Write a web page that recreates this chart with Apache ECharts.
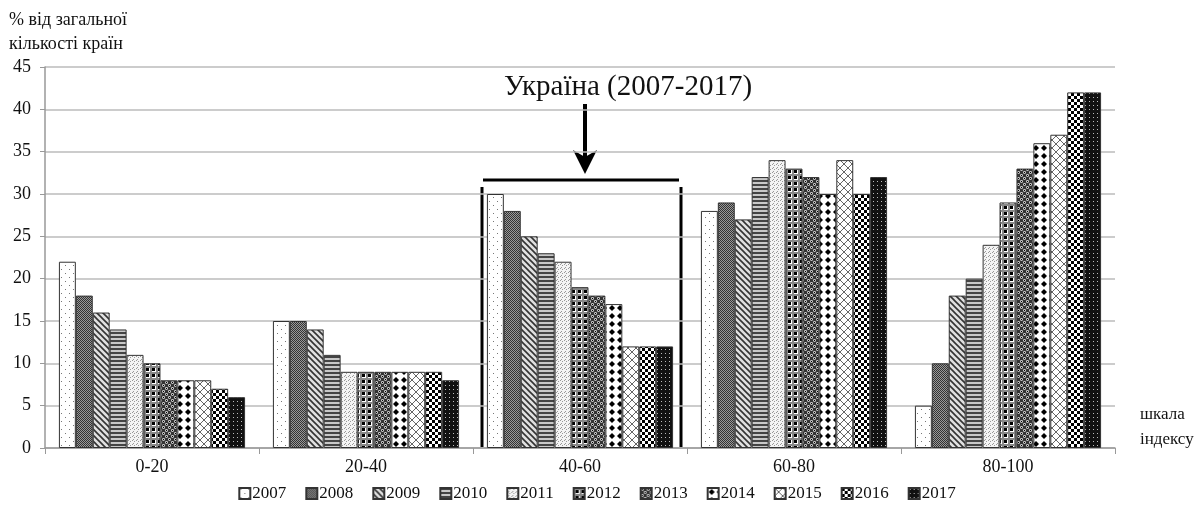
<!DOCTYPE html>
<html>
<head>
<meta charset="utf-8">
<script src="https://cdn.jsdelivr.net/npm/echarts@6/dist/echarts.min.js"></script>
<style>
  html, body { margin: 0; padding: 0; background: #fff; }
  #chart { width: 1194px; height: 510px; }
</style>
</head>
<body>
<div id="chart"></div>
<script>
// categories and values (% of countries)
var categories = ['0-20', '20-40', '40-60', '60-80', '80-100'];
var years = ['2007', '2008', '2009', '2010', '2011', '2012', '2013', '2014', '2015', '2016', '2017'];
var v2007 = [22, 15, 30, 28, 5];
var v2008 = [18, 15, 28, 29, 10];
var v2009 = [16, 14, 25, 27, 18];
var v2010 = [14, 11, 23, 32, 20];
var v2011 = [11, 9, 22, 34, 24];
var v2012 = [10, 9, 19, 33, 29];
var v2013 = [8, 9, 18, 32, 33];
var v2014 = [8, 9, 17, 30, 36];
var v2015 = [8, 9, 12, 34, 37];
var v2016 = [7, 9, 12, 30, 42];
var v2017 = [6, 8, 12, 32, 42];
var values = [v2007, v2008, v2009, v2010, v2011, v2012, v2013, v2014, v2015, v2016, v2017];
var yTicks = [0, 45, 5]; // min, max, step

var serif = '"Liberation Serif", "DejaVu Serif", serif';

// hatch patterns drawn on small canvases
function pat(size, bg, draw) {
    var c = document.createElement('canvas');
    c.width = size;
    c.height = size;
    var ctx = c.getContext('2d');
    ctx.fillStyle = bg;
    ctx.fillRect(0, 0, size, size);
    draw(ctx, size);
    return { image: c, repeat: 'repeat' };
}
function dot(ctx, x, y, r, col) {
    ctx.fillStyle = col;
    ctx.beginPath();
    ctx.arc(x, y, r, 0, Math.PI * 2);
    ctx.fill();
}

var patterns = [
    // 2007 sparse dots
    pat(8, '#fff', function (ctx) {
        ctx.fillStyle = '#777';
        ctx.fillRect(1, 1, 1, 1);
        ctx.fillRect(5, 5, 1, 1);
    }),
    // 2008 dense dark checker
    pat(2, '#999', function (ctx) {
        ctx.fillStyle = '#333';
        ctx.fillRect(0, 0, 1, 1);
        ctx.fillRect(1, 1, 1, 1);
    }),
    // 2009 diagonal lines
    pat(6, '#e0e0e0', function (ctx) {
        ctx.strokeStyle = '#333';
        ctx.lineWidth = 1.6;
        ctx.beginPath();
        ctx.moveTo(-1, -1); ctx.lineTo(7, 7);
        ctx.moveTo(-4, 2); ctx.lineTo(2, 8);
        ctx.moveTo(2, -4); ctx.lineTo(8, 2);
        ctx.stroke();
    }),
    // 2010 horizontal lines
    pat(4, '#c8c8c8', function (ctx) {
        ctx.fillStyle = '#444';
        ctx.fillRect(0, 0, 4, 2);
    }),
    // 2011 light stipple
    pat(4, '#f4f4f4', function (ctx) {
        ctx.fillStyle = '#999';
        ctx.fillRect(0, 0, 1, 1);
        ctx.fillRect(2, 1, 1, 1);
        ctx.fillRect(1, 3, 1, 1);
    }),
    // 2012 grey grid with black squares
    pat(6, '#fff', function (ctx) {
        ctx.fillStyle = '#888';
        ctx.fillRect(0, 0, 6, 2);
        ctx.fillRect(0, 0, 2, 6);
        ctx.fillStyle = '#000';
        ctx.fillRect(2, 2, 3, 3);
    }),
    // 2013 dark with circles
    pat(6, '#333', function (ctx) {
        dot(ctx, 1.5, 1.5, 1.4, '#eee');
        dot(ctx, 4.5, 4.5, 1.4, '#eee');
        dot(ctx, 1.5, 1.5, 0.7, '#000');
        dot(ctx, 4.5, 4.5, 0.7, '#000');
    }),
    // 2014 white with black diamonds
    pat(8, '#fff', function (ctx) {
        ctx.fillStyle = '#000';
        ctx.beginPath();
        ctx.moveTo(4, 1); ctx.lineTo(7, 4); ctx.lineTo(4, 7); ctx.lineTo(1, 4);
        ctx.closePath();
        ctx.fill();
    }),
    // 2015 cross hatch
    pat(8, '#fff', function (ctx) {
        ctx.strokeStyle = '#666';
        ctx.lineWidth = 1;
        ctx.beginPath();
        ctx.moveTo(0, 0); ctx.lineTo(8, 8);
        ctx.moveTo(8, 0); ctx.lineTo(0, 8);
        ctx.stroke();
    }),
    // 2016 checkerboard
    pat(6, '#fff', function (ctx) {
        ctx.fillStyle = '#000';
        ctx.fillRect(0, 0, 3, 3);
        ctx.fillRect(3, 3, 3, 3);
    }),
    // 2017 black with tiny white dots
    pat(4, '#111', function (ctx) {
        ctx.fillStyle = '#bbb';
        ctx.fillRect(1, 1, 1, 1);
    })
];

var series = [];
for (var i = 0; i < years.length; i++) {
    series.push({
        name: years[i],
        type: 'bar',
        data: values[i],
        barGap: '0%',
        barCategoryGap: '13%',
        itemStyle: {
            color: patterns[i],
            borderColor: '#333',
            borderWidth: 1
        },
        emphasis: { disabled: true }
    });
}

var myChart = echarts.init(document.getElementById('chart'));
var option = {
    animation: false,
    backgroundColor: '#fff',
    grid: { left: 45, right: 79, top: 67, bottom: 62 },
    legend: {
        data: years,
        top: 480,
        left: 'center',
        icon: 'rect',
        itemWidth: 11,
        itemHeight: 11,
        itemGap: 19,
        textStyle: { fontFamily: serif, fontSize: 17, color: '#111', padding: [0, 0, 0, -3] }
    },
    xAxis: {
        type: 'category',
        data: categories,
        axisLine: { lineStyle: { color: '#999', width: 1.5 } },
        axisTick: { show: true, length: 6, lineStyle: { color: '#999' } },
        axisLabel: { fontFamily: serif, fontSize: 18, color: '#111', margin: 10 }
    },
    yAxis: {
        type: 'value',
        min: yTicks[0],
        max: yTicks[1],
        interval: yTicks[2],
        axisLine: { show: true, lineStyle: { color: '#999', width: 1.5 } },
        axisTick: { show: true, length: 5, lineStyle: { color: '#999' } },
        axisLabel: { fontFamily: serif, fontSize: 18, color: '#111', margin: 14 },
        splitLine: { lineStyle: { color: '#bbb', width: 1.5 } }
    },
    graphic: [
        {
            type: 'text', x: 9, y: 8,
            style: { text: '% від загальної\nкількості країн', font: '18px ' + serif, fill: '#111', lineHeight: 24 }
        },
        {
            type: 'text', x: 1140, y: 402,
            style: { text: 'шкала\nіндексу', font: '17px ' + serif, fill: '#111', lineHeight: 25 }
        },
        {
            type: 'text', x: 628, y: 87,
            style: { text: 'Україна (2007-2017)', font: '29px ' + serif, fill: '#111', align: 'center', verticalAlign: 'middle' }
        },
        // arrow
        { type: 'line', shape: { x1: 585, y1: 104, x2: 585, y2: 160 }, style: { stroke: '#000', lineWidth: 4 } },
        { type: 'polygon', shape: { points: [[573, 150], [585, 157], [597, 150], [585, 174]] }, style: { fill: '#000' } },
        // bracket around 40-60
        { type: 'line', shape: { x1: 483, y1: 180, x2: 679, y2: 180 }, style: { stroke: '#000', lineWidth: 3 } },
        { type: 'line', shape: { x1: 482, y1: 187, x2: 482, y2: 447 }, style: { stroke: '#000', lineWidth: 3 } },
        { type: 'line', shape: { x1: 681, y1: 187, x2: 681, y2: 447 }, style: { stroke: '#000', lineWidth: 3 } }
    ],
    series: series
};
myChart.setOption(option);
</script>
</body>
</html>
